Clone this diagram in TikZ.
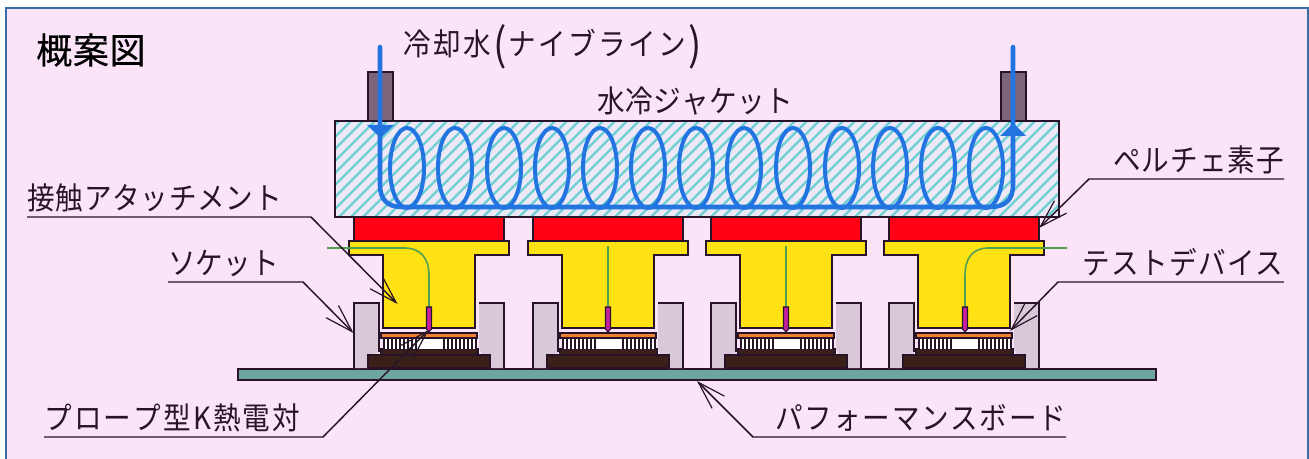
\documentclass[tikz,border=0pt]{standalone}
\usepackage{fontspec}
\usetikzlibrary{arrows.meta}
\newfontfamily\jpf[FakeBold=0.3]{Noto Sans CJK JP}
\newfontfamily\jpn[FakeStretch=0.9]{Noto Sans CJK JP}
\definecolor{bgp}{RGB}{252,228,248}
\definecolor{frm}{RGB}{58,108,165}
\definecolor{ink}{RGB}{40,20,40}
\definecolor{cool}{RGB}{34,116,225}
\definecolor{hatchc}{RGB}{110,208,212}
\definecolor{jackbg}{RGB}{236,232,246}
\definecolor{pipec}{RGB}{125,100,120}
\definecolor{redc}{RGB}{255,0,20}
\definecolor{yel}{RGB}{255,226,20}
\definecolor{sock}{RGB}{216,200,216}
\definecolor{orng}{RGB}{240,128,48}
\definecolor{dark}{RGB}{58,32,24}
\definecolor{brd}{RGB}{110,165,160}
\definecolor{prb}{RGB}{196,32,160}
\definecolor{wire}{RGB}{80,160,80}
\newcommand{\lab}[2]{\makebox[#1][s]{#2}}
\newcommand{\assy}[1]{%
  \fill[yel,draw=ink,line width=1.5pt] (#1-5,241) -- (#1+155,241) -- (#1+155,255) -- (#1+121,255) -- (#1+121,328) -- (#1+29,328) -- (#1+29,255) -- (#1-5,255) -- cycle;
  \fill[redc,draw=ink,line width=1pt] (#1,217) rectangle (#1+150,241);
  \fill[dark,draw=ink,line width=1pt] (#1+27,349) rectangle (#1+124,355);
  \fill[dark,draw=ink,line width=1pt] (#1+14,355) rectangle (#1+136,368);
  \fill[white] (#1+29,338) rectangle (#1+122,349);
  \foreach \k in {0,...,8}{
    \draw[ink,line width=1.1pt] (#1+30+\k*4,338) -- (#1+30+\k*4,349);
    \draw[ink,line width=1.1pt] (#1+90+\k*4,338) -- (#1+90+\k*4,349);
  }
  \fill[orng,draw=ink,line width=.8pt] (#1+27,333) rectangle (#1+123,338);
}
\newcommand{\sockets}[1]{%
  \fill[sock] (#1,303) -- (#1+25,303) -- (#1+25,353) -- (#1+14,355) -- (#1+14,368) -- (#1,368) -- cycle;
  \fill[sock] (#1+125,303) -- (#1+150,303) -- (#1+150,368) -- (#1+136,368) -- (#1+125,349) -- cycle;
  \draw[ink,line width=1.1pt] (#1,368) -- (#1,303) -- (#1+25,303) -- (#1+25,352);
  \draw[ink,line width=1.1pt] (#1+125,303) -- (#1+150,303) -- (#1+150,368);
}
\tikzset{
  labelnode/.style={inner xsep=0pt,inner ysep=5.25pt,text depth=0pt,font=\jpn\fontsize{23pt}{24pt}\selectfont,text=ink,anchor=south west},
  leader/.style={draw=ink,line width=1.1pt,-{Straight Barb[length=21pt,width=13pt,line width=.9pt]}},
  coolant/.style={draw=cool,line width=3.4pt,line cap=round},
  loopc/.style={draw=cool,line width=3pt},
  wirec/.style={draw=wire,line width=1.2pt},
  probec/.style={fill=prb,draw=ink,line width=.8pt},
  pipest/.style={fill=pipec,draw=ink,line width=1pt}
}
\begin{document}
\begin{tikzpicture}[x=0.75pt,y=-0.75pt]
\useasboundingbox (0,0) rectangle (1309,459);
\fill[white] (0,0) rectangle (1309,459);
\begin{scope}
\clip (0,0) rectangle (1309,459);
\fill[bgp,draw=frm,line width=2.2pt] (6,8) rectangle (1308,470);
\end{scope}
% board
\fill[brd,draw=ink,line width=1.5pt] (238,369) rectangle (1156,380);
% pipes
\fill[pipest] (368,72) rectangle (393,121);
\fill[pipest] (1001,72) rectangle (1026,121);
% jacket
\fill[jackbg] (335,121) rectangle (1059,217);
\begin{scope}
\clip (335,121) rectangle (1059,217);
\foreach \h in {0,12,...,840}{
  \draw[hatchc,line width=1.7pt] (235+\h,225) -- (235+\h+110,115);
}
\end{scope}
\draw[ink,line width=1pt] (335,121) rectangle (1059,217);
% assemblies
\sockets{354}\sockets{533}\sockets{711}\sockets{889}
\assy{354}\assy{533}\assy{711}\assy{889}
% wires and probes
\draw[wirec] (327,248) -- (405,248) .. controls (420,248) and (429,258) .. (429,275) -- (429,307);
\draw[wirec] (608,246) -- (608,307);
\draw[wirec] (786,246) -- (786,307);
\draw[wirec] (1067,248) -- (988,248) .. controls (973,248) and (965,258) .. (965,275) -- (965,307);
\foreach \px in {429,608,786,965}{
  \fill[probec] (\px-2.5,307) -- (\px+2.5,307) -- (\px+2.5,329) -- (\px,332) -- (\px-2.5,329) -- cycle;
}
% coolant loops
\foreach \cx in {407,455,504,552,600,648,696,744,793,842,890,938,986}{
  \draw[loopc] (\cx,168) ellipse [x radius=17,y radius=40];
}
\draw[coolant] (380,47) -- (380,185) .. controls (380,200) and (388,207) .. (402,207) -- (990,207) .. controls (1005,207) and (1013,200) .. (1013,185) -- (1013,47);
\fill[cool] (367,125) -- (394,125) -- (380.5,138) -- cycle;
\fill[cool] (1000,136) -- (1026,136) -- (1013,123) -- cycle;
% labels
\node[labelnode,inner ysep=1.5pt,font=\jpf\fontsize{27pt}{28pt}\selectfont,text=black] (title) at (36,66) {\lab{82pt}{概\hfil 案\hfil 図}};
\node[labelnode,inner ysep=2pt] (cw) at (403,58) {\lab{224pt}{冷\hfil 却\hfil 水\hfil \raisebox{-4pt}{\fontsize{33pt}{33pt}\selectfont (}\hfil ナ\hfil イ\hfil ブ\hfil ラ\hfil イ\hfil ン\hfil \raisebox{-4pt}{\fontsize{33pt}{33pt}\selectfont )}}};
\node[labelnode,inner ysep=2pt] (jk) at (597,115) {\lab{147pt}{水\hfil 冷\hfil ジ\hfil ャ\hfil ケ\hfil ッ\hfil ト}};
\node[labelnode] (at) at (27,217) {\lab{191pt}{接\hfil 触\hfil ア\hfil タ\hfil ッ\hfil チ\hfil メ\hfil ン\hfil ト}};
\node[labelnode] (so) at (168,282) {\lab{80pt}{ソ\hfil ケ\hfil ッ\hfil ト}};
\node[labelnode] (pr) at (44,437) {\lab{192pt}{プ\hfil ロ\hfil ー\hfil プ\hfil 型\hfil K\hfil 熱\hfil 電\hfil 対}};
\node[labelnode] (pe) at (1113,179) {\lab{128pt}{ペ\hfil ル\hfil チ\hfil ェ\hfil 素\hfil 子}};
\node[labelnode] (te) at (1082,282) {\lab{151pt}{テ\hfil ス\hfil ト\hfil デ\hfil バ\hfil イ\hfil ス}};
\node[labelnode] (pf) at (775,437) {\lab{218pt}{パ\hfil フ\hfil ォ\hfil ー\hfil マ\hfil ン\hfil ス\hfil ボ\hfil ー\hfil ド}};
% leaders
\coordinate (atk) at (311,217); \coordinate (att) at (397.5,304);
\coordinate (sok) at (303,282); \coordinate (sot) at (353.5,333);
\coordinate (prk) at (323,437); \coordinate (prt) at (428.5,330);
\coordinate (pek) at (1089,179); \coordinate (pet) at (1039,228);
\coordinate (tek) at (1058,282); \coordinate (tet) at (1010,331);
\coordinate (pfk) at (753,437); \coordinate (pft) at (697,381);
\draw[leader] (at.south west) -- (atk) -- (att);
\draw[leader] (so.south west) -- (sok) -- (sot);
\draw[leader] (pr.south west) -- (prk) -- (prt);
\draw[leader] (pe.south east) -- (pek) -- (pet);
\draw[leader] (te.south east) -- (tek) -- (tet);
\draw[leader] (pf.south east) -- (pfk) -- (pft);
\end{tikzpicture}
\end{document}
